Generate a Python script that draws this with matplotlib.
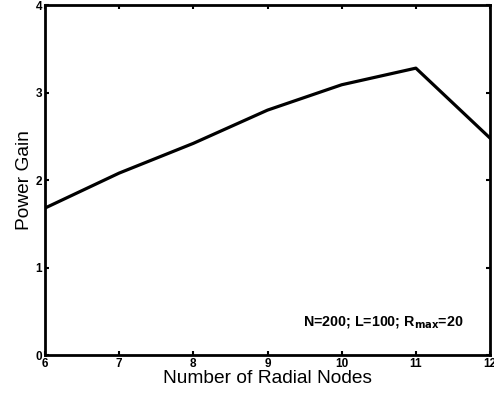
import matplotlib
matplotlib.use("Agg")
import matplotlib.pyplot as plt

# radial nodes vs power gain
nodes = [6, 7, 8, 9, 10, 11, 12]
gain = [1.68, 2.08, 2.42, 2.80, 3.09, 3.28, 2.48]
xticks = [6, 7, 8, 9, 10, 11, 12]
yticks = [0, 1, 2, 3, 4]

plt.rcParams['font.family'] = ['Liberation Sans', 'DejaVu Sans']

fig = plt.figure(figsize=(4.94, 3.98), dpi=100)
ax = fig.add_axes([0.091, 0.108, 0.901, 0.879])

ax.plot(nodes, gain, color='black', linewidth=2.3)

ax.set_xlim(6, 12)
ax.set_ylim(0, 4)
ax.set_xticks(xticks)
ax.set_yticks(yticks)
ax.tick_params(direction='in', length=3, width=1.5, labelsize=8.5, pad=2,
               top=True, right=True)
for lab in ax.get_xticklabels() + ax.get_yticklabels():
    lab.set_fontweight('bold')
for sp in ax.spines.values():
    sp.set_linewidth(2)

ax.set_xlabel('Number of Radial Nodes', fontsize=13.8, labelpad=0)
ax.set_ylabel('Power Gain', fontsize=13.8, labelpad=2)

ax.text(11.64, 0.38, r'N=200; L=100; R$_{\mathbf{max}}$=20', fontsize=10.3,
        fontweight='bold', ha='right', va='center')

fig.savefig('out.png', dpi=100)
